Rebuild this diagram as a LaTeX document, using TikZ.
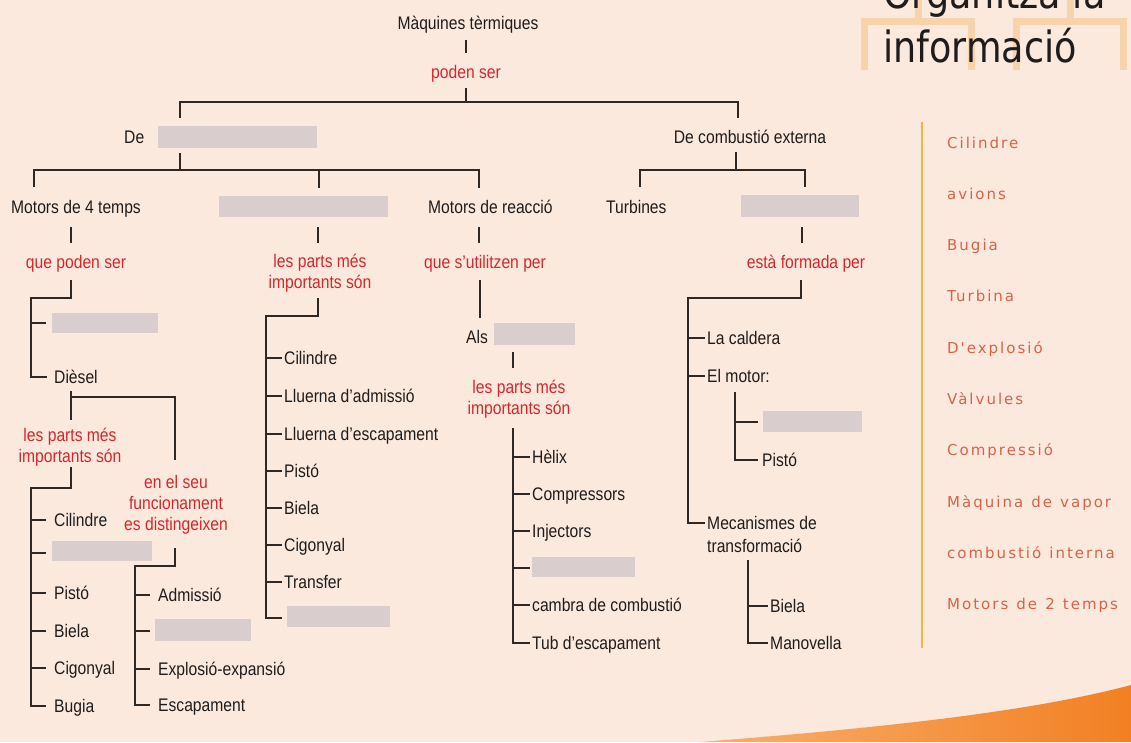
\documentclass[tikz,border=0pt]{standalone}
\usepackage{fontspec}
\setmainfont[FakeStretch=0.86]{Liberation Sans}
\newfontfamily\titlefont[FakeStretch=0.85]{DejaVu Sans}
\newfontfamily\listfont[LetterSpace=13.3,WordSpace=1.2]{DejaVu Sans}
\usetikzlibrary{calc}
\definecolor{bg}{RGB}{251,233,221}
\definecolor{boxg}{RGB}{218,205,206}
\definecolor{redt}{RGB}{214,38,42}
\definecolor{linec}{RGB}{45,40,38}
\definecolor{textc}{RGB}{30,28,28}
\definecolor{listc}{RGB}{213,100,72}
\definecolor{vline}{RGB}{238,180,70}
\definecolor{deco}{RGB}{247,211,172}
\definecolor{orA}{RGB}{249,175,110}
\definecolor{orB}{RGB}{242,128,35}
\tikzset{
  conn/.style={draw=linec, line width=1.7pt},
  lbl/.style={inner sep=0pt, font=\fontsize{18.2}{21}\selectfont, text=textc},
  t/.style={lbl, anchor=base west, yshift=-6.5pt},
  tc/.style={lbl, anchor=base, yshift=-6.5pt},
  rt/.style={lbl, text=redt, align=center, anchor=center},
  rs/.style={lbl, text=redt, anchor=base, yshift=-6.5pt},
  gbox/.style={fill=boxg, inner sep=0pt, draw=none, anchor=north west},
  lst/.style={inner sep=0pt, anchor=base west, text=listc, font=\listfont\fontsize{15}{17}\selectfont},
  deco line/.style={draw=deco, line width=7pt}
}
\begin{document}
\begin{tikzpicture}[x=1pt,y=-1pt,font=\fontsize{18.2}{21}\selectfont]
\useasboundingbox (0,0) rectangle (1131,742);
\clip (0,0) rectangle (1131,742);
\fill[bg] (0,0) rectangle (1131,742);
% bottom orange swoosh
\shade[left color=orA, right color=orB] (700,742) .. controls (880,728) and (1030,712) .. (1131,685) -- (1131,742) -- cycle;
% title decoration
\draw[deco line] (864,70) -- (864,21) -- (971,21) -- (971,70);
\draw[deco line] (918,0) -- (918,21);
\draw[deco line] (1016,70) -- (1016,21) -- (1123,21) -- (1123,70);
\draw[deco line] (1070,0) -- (1070,21);
\node[inner sep=0pt, anchor=base west, font=\titlefont\fontsize{43}{43}\selectfont, text=textc] (title1) at (883,8) {Organitza la};
\node[inner sep=0pt, anchor=base west, font=\titlefont\fontsize{43}{43}\selectfont, text=textc] (title2) at (883,62) {informació};
% word list
\draw[draw=vline, line width=2pt] (922,122) -- (922,648);
\foreach \w [count=\i from 0] in {Cilindre,avions,Bugia,Turbina,D'explosió,Vàlvules,Compressió,Màquina de vapor,combustió interna,Motors de 2 temps}
  \node[lst] (w\i) at (947,148+51.3*\i) {\w};

% ---------- top levels
\node[tc] (maq) at (468,23) {Màquines tèrmiques};
\node[rs] (poden) at (466,72) {poden ser};
\node[t] (de) at (124,137) {De};
\node[gbox, minimum width=159pt, minimum height=22pt] (b1) at (158,126) {};
\node[tc] (dce) at (750,137) {De combustió externa};
\node[t] (m4t) at (11,207) {Motors de 4 temps};
\node[gbox, minimum width=169pt, minimum height=21pt] (b2) at (219,196) {};
\node[t] (mr) at (428,207) {Motors de reacció};
\node[t] (turb) at (606,207) {Turbines};
\node[gbox, minimum width=118pt, minimum height=22pt] (b3) at (741,195) {};
\node[rs] (qps) at (76,262) {que poden ser};
\node[rt] (lpm1) at (320,273) {les parts més\\importants són};
\node[rs] (qsu) at (485,262) {que s'utilitzen per};
\node[rs] (efp) at (806,262) {està formada per};

\coordinate (jT) at (466,102);
\coordinate (jL) at (180,102);
\coordinate (jR) at (738,102);
\draw[conn] (poden |- 0,40) -- (poden |- 0,53);
\draw[conn] (poden |- 0,88) -- (jT);
\draw[conn] (jL |- 0,118) -- (jL) -- (jR) -- (jR |- 0,118);

\coordinate (k0) at (180,170);
\coordinate (kL) at (34,170);
\coordinate (kM) at (319,170);
\coordinate (kR) at (479,170);
\draw[conn] (k0 |- 0,153) -- (k0);
\draw[conn] (kL |- 0,187) -- (kL) -- (kR) -- (kR |- 0,188);
\draw[conn] (kM) -- (kM |- 0,188);

\coordinate (e0) at (736,170);
\coordinate (eL) at (640,170);
\coordinate (eR) at (805,170);
\draw[conn] (e0 |- 0,152) -- (e0);
\draw[conn] (eL |- 0,187) -- (eL) -- (eR) -- (eR |- 0,187);

\draw[conn] (71,227) -- (71,243);
\draw[conn] (318,227) -- (318,243);
\draw[conn] (479,227) -- (479,243);
\draw[conn] (802,227) -- (802,243);

% ---------- Motors de 4 temps branch
\node[gbox, minimum width=106pt, minimum height=20pt] (b4) at (52,313) {};
\node[t] (dies) at (54,377) {Dièsel};
\node[rt] (lpm2) at (70,447) {les parts més\\importants són};
\node[rt] (ens) at (176,505) {en el seu\\funcionament\\es distingeixen};
% list 1
\node[t] (c1) at (54,520) {Cilindre};
\node[gbox, minimum width=100pt, minimum height=20pt] (b5) at (52,541) {};
\node[t] (p1) at (54,593) {Pistó};
\node[t] (bi1) at (54,631) {Biela};
\node[t] (cg1) at (54,668) {Cigonyal};
\node[t] (bu1) at (54,706) {Bugia};
% list 2
\node[t] (ad) at (158,595) {Admissió};
\node[gbox, minimum width=96pt, minimum height=22pt] (b6) at (155,619) {};
\node[t] (ex) at (158,669) {Explosió-expansió};
\node[t] (es) at (158,705) {Escapament};
% middle list 3
\node[t] (c3) at (284,358) {Cilindre};
\node[t] (la) at (284,396) {Lluerna d'admissió};
\node[t] (le) at (284,434) {Lluerna d'escapament};
\node[t] (p3) at (284,471) {Pistó};
\node[t] (bi3) at (284,508) {Biela};
\node[t] (cg3) at (284,545) {Cigonyal};
\node[t] (tr) at (284,582) {Transfer};
\node[gbox, minimum width=103pt, minimum height=21pt] (b7) at (287,606) {};
% reacció
\node[t] (als) at (466,337) {Als};
\node[gbox, minimum width=81pt, minimum height=22pt] (b8) at (494,323) {};
\node[rt] (lpm3) at (519,399) {les parts més\\importants són};
\node[t] (he) at (532,457) {Hèlix};
\node[t] (co) at (532,494) {Compressors};
\node[t] (in) at (532,531) {Injectors};
\node[gbox, minimum width=103pt, minimum height=20pt] (b9) at (532,557) {};
\node[t] (cc) at (532,605) {cambra de combustió};
\node[t] (tu) at (532,643) {Tub d'escapament};
% externa
\node[t] (lc) at (707,338) {La caldera};
\node[t] (em) at (707,376) {El motor:};
\node[t] (mec1) at (707,523) {Mecanismes de};
\node[t] (mec2) at (707,546) {transformació};
\node[gbox, minimum width=99pt, minimum height=21pt] (b10) at (763,411) {};
\node[t] (p6) at (762,460) {Pistó};
\node[t] (bi7) at (770,606) {Biela};
\node[t] (mv) at (770,643) {Manovella};

% tick points at the middle height of each item
\foreach \n in {dies,c1,p1,bi1,cg1,bu1,ad,ex,es,c3,la,le,p3,bi3,cg3,tr,he,co,in,cc,tu,lc,em,mec1,p6,bi7,mv}
  \coordinate (t\n) at ([yshift=6.5pt]\n.base west);

% ---------- connectors, Motors de 4 temps
\coordinate (s0) at (31,298);
\draw[conn] (71,280) -- (71,298) -- (s0) -- (s0 |- tdies) -- ([xshift=-7pt]tdies);
\draw[conn] (s0 |- 0,323) -- ([xshift=-6pt]b4.west |- 0,323);
\coordinate (dj) at (71,397);
\coordinate (dr) at (175,397);
\draw[conn] (dj |- 0,391) -- (dj |- 0,420);
\draw[conn] (dj) -- (dr) -- (dr |- 0,460);

\coordinate (s1) at (31,488);
\draw[conn] (71,467) -- (71,488) -- (s1) -- (s1 |- tbu1) -- ([xshift=-8pt]tbu1);
\foreach \n in {c1,p1,bi1,cg1}
  \draw[conn] (s1 |- t\n) -- ([xshift=-8pt]t\n);
\draw[conn] (s1 |- 0,553) -- (46,553);

\coordinate (s2) at (135,566);
\draw[conn] (175,548) -- (175,566) -- (s2) -- (s2 |- tes) -- ([xshift=-8pt]tes);
\foreach \n in {ad,ex}
  \draw[conn] (s2 |- t\n) -- ([xshift=-8pt]t\n);
\draw[conn] (s2 |- 0,631) -- (150,631);

% ---------- middle list
\coordinate (s3) at (266,316);
\draw[conn] (318,298) -- (318,316) -- (s3) -- (s3 |- 0,618) -- (282,618);
\foreach \n in {c3,la,le,p3,bi3,cg3,tr}
  \draw[conn] (s3 |- t\n) -- ([xshift=-2pt]t\n);

% ---------- reacció
\draw[conn] (480,280) -- (480,318);
\draw[conn] (513,352) -- (513,368);
\coordinate (s4) at (513,428);
\draw[conn] (s4) -- (s4 |- ttu) -- ([xshift=-2pt]ttu);
\foreach \n in {he,co,in,cc}
  \draw[conn] (s4 |- t\n) -- ([xshift=-2pt]t\n);
\draw[conn] (s4 |- 0,568) -- (530,568);

% ---------- externa
\coordinate (s5) at (688,298);
\draw[conn] (801,280) -- (801,298) -- (s5) -- (s5 |- tmec1) -- ([xshift=-2pt]tmec1);
\foreach \n in {lc,em}
  \draw[conn] (s5 |- t\n) -- ([xshift=-2pt]t\n);
\coordinate (s6) at (735,392);
\draw[conn] (s6) -- (s6 |- tp6) -- ([xshift=-4pt]tp6);
\draw[conn] (s6 |- 0,422) -- (758,422);
\coordinate (s7) at (748,560);
\draw[conn] (s7) -- (s7 |- tmv) -- ([xshift=-2pt]tmv);
\draw[conn] (s7 |- tbi7) -- ([xshift=-2pt]tbi7);
\end{tikzpicture}
\end{document}
